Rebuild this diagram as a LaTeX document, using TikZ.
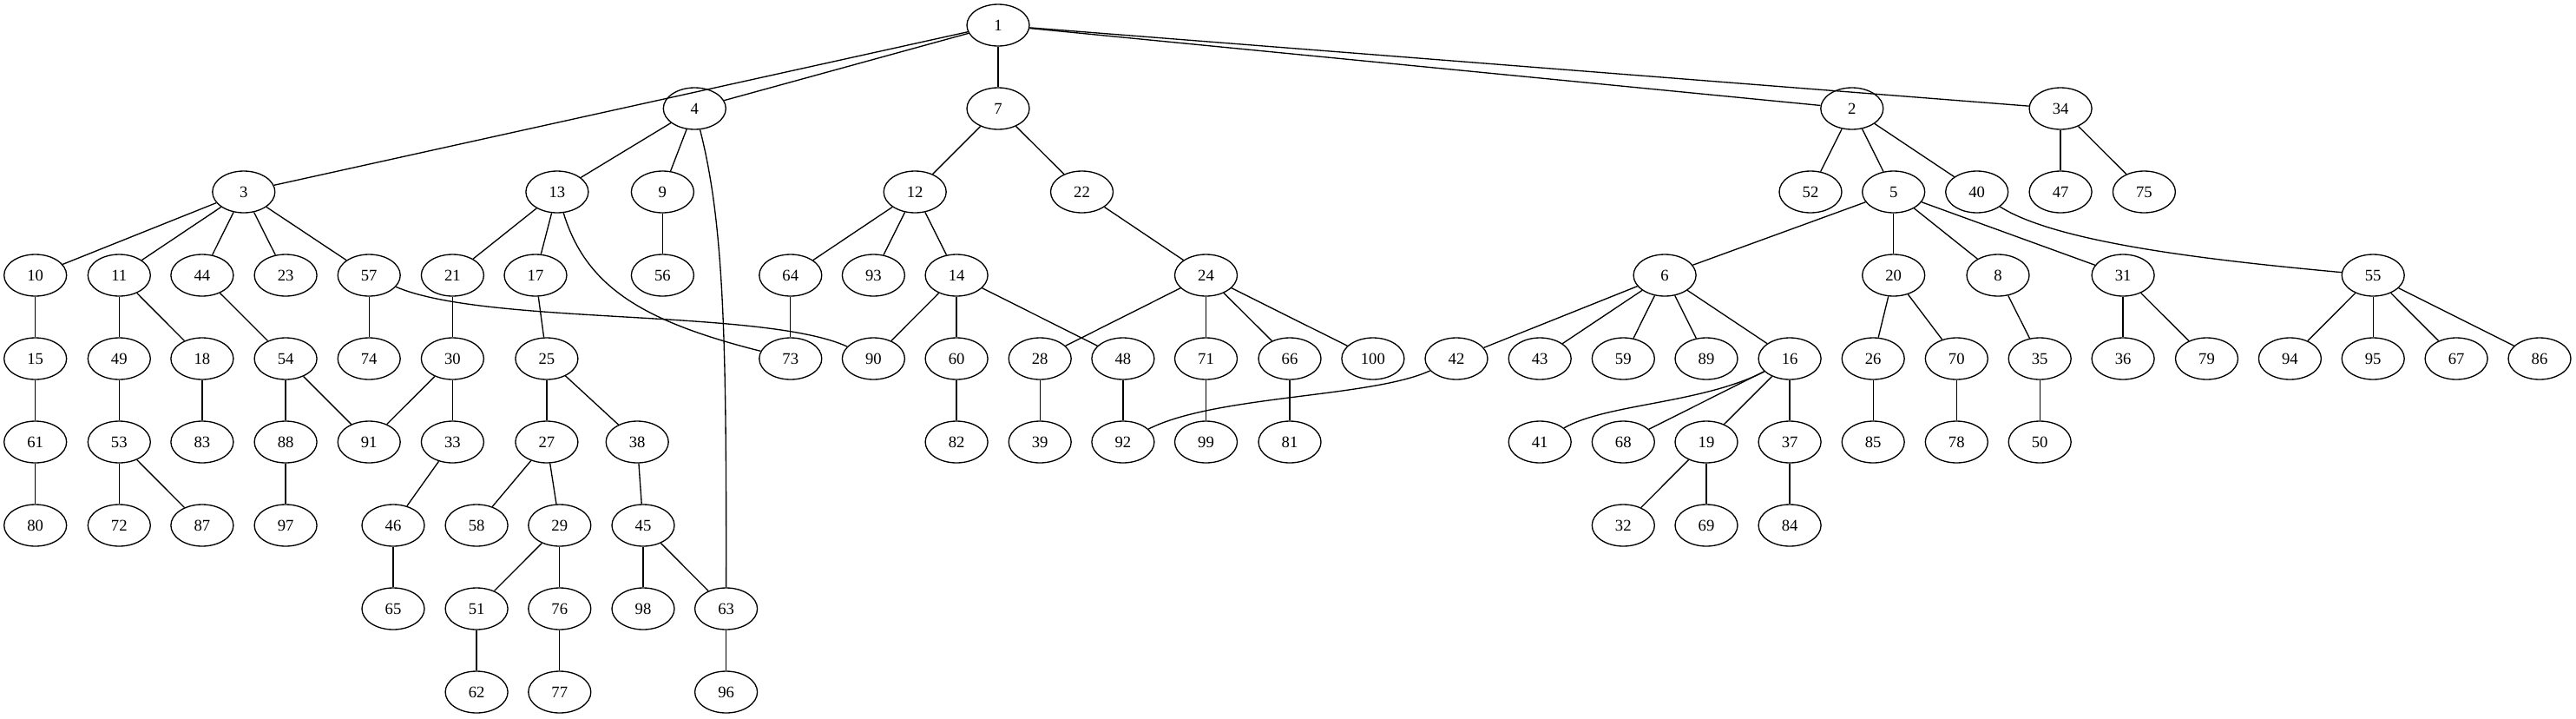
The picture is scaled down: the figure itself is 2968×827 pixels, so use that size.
\documentclass[tikz,border=0pt]{standalone}
\usepackage{fontspec}
\setmainfont{Liberation Serif}
\usetikzlibrary{shapes.geometric}
\newcommand\gvfont{\fontsize{14bp}{16bp}\selectfont}
\tikzset{
  gv/.style={draw, ellipse, minimum width=54bp, minimum height=36bp, inner sep=0pt, line width=1bp, font=\gvfont},
  gvedge/.style={line width=1bp},
}
\begin{document}
\begin{tikzpicture}[x=0.75bp, y=-0.75bp]
\useasboundingbox (0,0) rectangle (2968,827);
% rank 0
\node[gv] (n1) at (1150,29) {1};
% rank 1
\foreach \n/\x in {4/800.3, 7/1150, 2/2133.8, 34/2374.1}
  \node[gv] (n\n) at (\x,125) {\n};
% rank 2
\foreach \n/\x in {3/280.8, 13/641.9, 9/763.4, 12/1054.2, 22/1246.5, 52/2086, 5/2181.7, 40/2277.7, 47/2374.1, 75/2470.4}
  \node[gv] (n\n) at (\x,221) {\n};
% rank 3
\foreach \n/\x in {10/40.7, 11/137.3, 44/232.9, 23/329.1, 57/425.2, 21/521.4, 17/617, 56/763.4, 64/910.8, 93/1006.4, 14/1102.1, 24/1389.5, 6/1918.1, 20/2181.7, 8/2302, 31/2446.1, 55/2734.2}
  \node[gv] (n\n) at (\x,317) {\n};
% rank 4
\foreach \n/\x in {15/40.7, 49/137.3, 18/232.9, 54/329.1, 74/425.2, 30/521.4, 25/629.9, 73/910.8, 90/1006.4, 60/1102.1, 28/1198.2, 48/1293.9, 71/1389.5, 66/1486, 100/1581.9, 42/1678, 43/1774.2, 59/1870.3, 89/1966, 16/2062.1, 26/2158.2, 70/2254.3, 35/2350.2, 36/2446.1, 79/2542.5, 94/2638.4, 95/2734.2, 67/2830.1, 86/2926}
  \node[gv] (n\n) at (\x,413) {\n};
% rank 5
\foreach \n/\x in {61/40.7, 53/137.3, 83/232.9, 88/329.1, 91/425.2, 33/521.4, 27/629.9, 38/734.2, 82/1102.1, 39/1198.2, 92/1293.9, 99/1389.5, 81/1486, 41/1774.2, 68/1870.3, 19/1966, 37/2062.1, 85/2158.2, 78/2254.3, 50/2350.2}
  \node[gv] (n\n) at (\x,509) {\n};
% rank 6
\foreach \n/\x in {80/40.7, 72/137.3, 87/232.9, 97/329.1, 46/453, 58/549.1, 29/644.8, 45/741, 32/1870.3, 69/1966, 84/2062.1}
  \node[gv] (n\n) at (\x,605) {\n};
% rank 7
\foreach \n/\x in {65/453, 51/549.1, 76/644.8, 98/741, 63/836.6}
  \node[gv] (n\n) at (\x,701) {\n};
% rank 8
\foreach \n/\x in {62/549.1, 77/644.8, 96/836.6}
  \node[gv] (n\n) at (\x,797) {\n};

% straight edges
\foreach \a/\b in {1/3, 1/4, 1/7, 1/2, 1/34,
  4/13, 4/9, 7/12, 7/22, 2/52, 2/5, 2/40, 34/47, 34/75,
  3/10, 3/11, 3/44, 3/23, 3/57, 13/21, 13/17, 9/56,
  12/64, 12/93, 12/14, 22/24, 5/6, 5/20, 5/8, 5/31,
  10/15, 11/49, 11/18, 44/54, 57/74, 21/30, 17/25, 64/73,
  14/90, 14/60, 14/48, 24/28, 24/71, 24/66, 24/100,
  6/42, 6/43, 6/59, 6/89, 6/16, 20/26, 20/70, 8/35, 31/36, 31/79,
  55/94, 55/95, 55/67, 55/86,
  15/61, 49/53, 18/83, 54/88, 54/91, 30/91, 30/33, 25/27, 25/38,
  60/82, 28/39, 48/92, 71/99, 66/81, 16/68, 16/19, 16/37,
  26/85, 70/78, 35/50, 61/80, 53/72, 53/87, 88/97, 33/46,
  27/58, 27/29, 38/45, 19/32, 19/69, 37/84, 46/65, 29/51, 29/76,
  45/98, 45/63, 51/62, 76/77, 63/96}
  \draw[gvedge] (n\a) -- (n\b);

% curved edges
\draw[gvedge] (n13) .. controls (675,330) and (740,370) .. (n73);
\draw[gvedge] (n57) .. controls (560,375) and (880,355) .. (n90);
\draw[gvedge] (n4) .. controls (835,260) and (837,400) .. (n63);
\draw[gvedge] (n40) .. controls (2370,280) and (2550,300) .. (n55);
\draw[gvedge] (n42) .. controls (1580,458) and (1400,455) .. (n92);
\draw[gvedge] (n16) .. controls (1960,465) and (1850,465) .. (n41);
\end{tikzpicture}
\end{document}
